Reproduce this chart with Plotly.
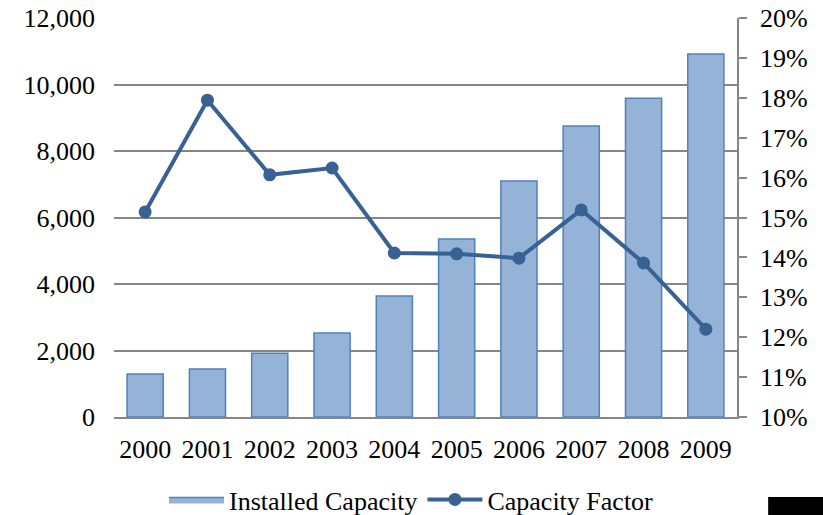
import plotly.graph_objects as go

years = ["2000", "2001", "2002", "2003", "2004", "2005", "2006", "2007", "2008", "2009"]
installed_capacity = [1290, 1440, 1920, 2530, 3640, 5350, 7100, 8750, 9590, 10920]
capacity_factor = [0.1514, 0.1794, 0.1607, 0.1624, 0.1411, 0.1409, 0.1398, 0.1519, 0.1386, 0.1220]

font_family = "Liberation Serif, Times New Roman, serif"
bar_fill = "#95B3D7"
bar_edge = "#4F81BD"
line_col = "#386194"

fig = go.Figure()
fig.add_trace(go.Bar(
    x=years, y=installed_capacity, name="Installed Capacity",
    marker=dict(color=bar_fill, line=dict(color=bar_edge, width=1.5)),
    yaxis="y", showlegend=False, legendgroup="ic",
))
# legend entry for bars (wide rectangle icon)
fig.add_trace(go.Scatter(
    x=[None], y=[None], name="Installed Capacity", mode="lines",
    fill="toself", fillcolor=bar_fill, line=dict(color=bar_edge, width=1.5),
    legendgroup="ic", yaxis="y",
))
fig.add_trace(go.Scatter(
    x=years, y=capacity_factor, name="Capacity Factor",
    mode="lines+markers",
    line=dict(color=line_col, width=4),
    marker=dict(color=line_col, size=13),
    yaxis="y2",
))

fig.update_layout(
    width=823, height=515,
    margin=dict(l=114, r=86, t=18, b=98, autoexpand=False),
    paper_bgcolor="white", plot_bgcolor="white",
    font=dict(family=font_family, size=26, color="black"),
    bargap=0.42,
    showlegend=True,
    legend=dict(orientation="h", x=0.5, xanchor="center", xref="container",
                y=0.03, yanchor="middle", yref="container",
                font=dict(size=26), traceorder="normal", itemwidth=55),
    xaxis=dict(type="category", categoryorder="array", categoryarray=years,
               range=[-0.5, len(years) - 0.5], showgrid=False, showline=True,
               linecolor="#868686", linewidth=1.5, ticks="", tickfont=dict(size=26),
               automargin=False, ticklabelstandoff=8),
    yaxis=dict(range=[0, 12000], dtick=2000, tickformat=",", showgrid=True,
               gridcolor="#868686", gridwidth=1.5, zeroline=False, showline=False,
               ticks="", ticklen=0, tickfont=dict(size=26), automargin=False,
               ticklabelstandoff=18, ticklabeloverflow="allow"),
    yaxis2=dict(range=[0.10, 0.20], dtick=0.01, tickformat=".0%", overlaying="y",
                side="right", showgrid=False, zeroline=False, showline=True,
                linecolor="#868686", linewidth=1.5, ticks="outside", ticklen=8,
                tickcolor="#868686", tickwidth=1.5, tickfont=dict(size=26),
                automargin=False, ticklabelstandoff=8, ticklabeloverflow="allow"),
    shapes=[dict(type="rect", xref="paper", yref="paper", x0=1.05, x1=1.14,
                 y0=-0.2456, y1=-0.2005, fillcolor="black", line=dict(width=0))],
)

fig.write_html("out.html", config={"displayModeBar": False},
               post_script="document.body.style.margin='0px';")
